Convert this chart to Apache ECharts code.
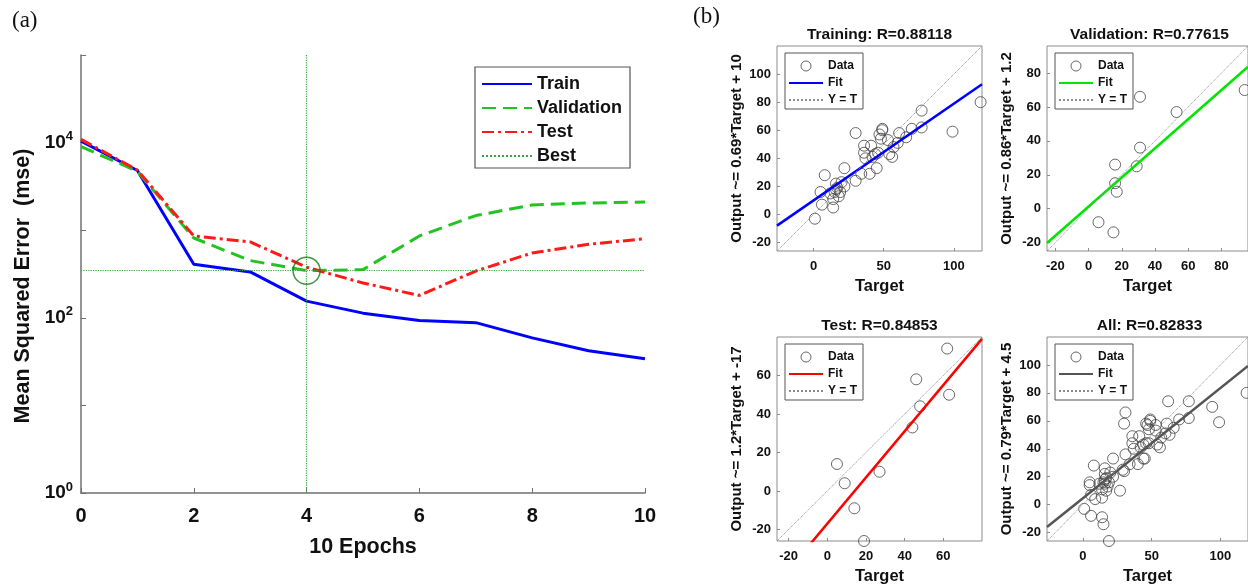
<!DOCTYPE html>
<html>
<head>
<meta charset="utf-8">
<script src="https://cdn.jsdelivr.net/npm/echarts@6/dist/echarts.min.js"></script>
<style>
html, body { margin: 0; padding: 0; background: #fff; }
#chart { width: 1248px; height: 586px; }
</style>
</head>
<body>
<div id="chart"></div>
<script>
// (a) performance, mse per epoch
const epochs = [0, 1, 2, 3, 4, 5, 6, 7, 8, 9, 10];
const trainMse = [10400, 4800, 408, 334, 155, 113, 93, 88, 59, 42, 34];
const validMse = [9000, 4700, 815, 450, 345, 355, 860, 1470, 1940, 2045, 2100];
const testMse = [10900, 4850, 860, 735, 378, 250, 180, 342, 550, 690, 800];
const bestEpoch = 4;

// (b) regression, [target, output]
const trainPts = [
  [1, -3], [5, 16], [6, 7], [8, 28], [12, 15], [14, 5], [14, 11], [15, 16], [16, 22], [16, 18],
  [17, 19], [18, 13], [19, 16], [20, 23], [22, 20], [22, 33], [30, 58], [30, 24], [34, 29], [36, 49],
  [36, 44], [37, 40], [40, 29], [41, 49], [42, 41], [44, 43], [45, 33], [46, 44], [47, 57], [48, 54],
  [49, 60], [49, 61], [53, 53], [54, 43], [56, 41], [57, 48], [60, 51], [61, 58], [66, 55], [70, 61],
  [77, 62], [77, 74], [99, 59], [119, 80]
];
const validPts = [[31, 66], [53, 57], [31, 36], [16, 26], [29, 25], [16, 15], [17, 10], [6, -8], [15, -14], [94, 70]];
const testPts = [[62, 74], [46, 58], [63, 50], [48, 44], [44, 33], [5, 14], [27, 10], [9, 4], [14, -9], [19, -26]];
const allPts = trainPts.concat(validPts, testPts);

const panelKeys = ['train', 'valid', 'test', 'all'];
const panelTitles = ['Training: R=0.88118', 'Validation: R=0.77615', 'Test: R=0.84853', 'All: R=0.82833'];
const panelData = [trainPts, validPts, testPts, allPts];
const fitSlope = [0.69, 0.86, 1.2, 0.79];
const fitIntercept = [10, 1.2, -17, 4.5];
const axisMin = [-26, -25, -26, -26];
const axisMax = [120, 96, 80, 120];
const xTicks = [[0, 50, 100], [-20, 0, 20, 40, 60, 80], [-20, 0, 20, 40, 60], [0, 50, 100]];
const yTicks = [[-20, 0, 20, 40, 60, 80, 100], [-20, 0, 20, 40, 60, 80], [-20, 0, 20, 40, 60], [-20, 0, 20, 40, 60, 80, 100]];
const fitColors = ['#0000ff', '#00e600', '#ff0000', '#555555'];

const FONT = 'Liberation Sans, Arial, sans-serif';
const boxes = [[777, 46], [1047, 46], [777, 337], [1047, 337]];
const BOX = 205;
const hideSymbol = { opacity: 0 };

const chart = echarts.init(document.getElementById('chart'), null, { renderer: 'canvas' });

const grids = [{ left: 81, top: 55, width: 564, height: 438 }];
const xAxes = [{
  type: 'value', gridIndex: 0, min: 0, max: 10, interval: 2,
  axisLine: { onZero: false, lineStyle: { color: '#707070', width: 1.5 } },
  axisTick: { inside: true, length: 5, lineStyle: { color: '#707070' } },
  splitLine: { show: false },
  axisLabel: { margin: 13, color: '#111', fontSize: 20, fontWeight: 'bold', fontFamily: FONT },
  name: '10 Epochs', nameLocation: 'middle', nameGap: 43,
  nameTextStyle: { color: '#111', fontSize: 21.5, fontWeight: 'bold', fontFamily: FONT }
}];
const yAxes = [{
  type: 'log', gridIndex: 0, logBase: 10, min: 1, max: 100000,
  axisLine: { show: true, onZero: false, lineStyle: { color: '#707070', width: 1.5 } },
  axisTick: { show: true, inside: true, length: 5, lineStyle: { color: '#707070' } },
  splitLine: { show: false },
  axisLabel: {
    margin: 8,
    formatter: (v) => {
      const e = Math.round(Math.log10(v));
      return e % 2 === 0 && e < 5 ? '{b|10}{s|' + e + '}' : '';
    },
    rich: {
      b: { fontSize: 19, fontWeight: 'bold', fontFamily: FONT, color: '#111' },
      s: { fontSize: 13, fontWeight: 'bold', fontFamily: FONT, color: '#111', padding: [0, 0, 12, 0] }
    }
  },
  name: 'Mean Squared Error  (mse)', nameLocation: 'middle', nameGap: 47,
  nameTextStyle: { color: '#111', fontSize: 21.5, fontWeight: 'bold', fontFamily: FONT, padding: [0, 24, 0, 0] }
}];

const series = [
  { name: 'Train', type: 'line', xAxisIndex: 0, yAxisIndex: 0, symbol: 'none',
    data: epochs.map((e, i) => [e, trainMse[i]]),
    itemStyle: { color: '#0000ff' }, lineStyle: { color: '#0000ff', width: 3 } },
  { name: 'Validation', type: 'line', xAxisIndex: 0, yAxisIndex: 0, symbol: 'none',
    data: epochs.map((e, i) => [e, validMse[i]]),
    itemStyle: { color: '#22c322' }, lineStyle: { color: '#22c322', width: 3, type: [14, 7] } },
  { name: 'Test', type: 'line', xAxisIndex: 0, yAxisIndex: 0, symbol: 'none',
    data: epochs.map((e, i) => [e, testMse[i]]),
    itemStyle: { color: '#ff1a1a' }, lineStyle: { color: '#ff1a1a', width: 3, type: [12, 4, 3, 4] } },
  { name: 'Best', type: 'line', xAxisIndex: 0, yAxisIndex: 0, symbol: 'none', data: [],
    itemStyle: { color: '#3aa83a' }, lineStyle: { color: '#3aa83a', width: 1.2, type: 'dotted' },
    markLine: {
      silent: true, symbol: 'none', label: { show: false },
      lineStyle: { color: '#3aa83a', width: 1.2, type: 'dotted' },
      data: [{ xAxis: bestEpoch }, { yAxis: validMse[bestEpoch] }]
    } },
  { name: 'bestCircle', type: 'scatter', xAxisIndex: 0, yAxisIndex: 0, symbol: 'circle', symbolSize: 27, z: 5,
    data: [[bestEpoch, validMse[bestEpoch]]],
    itemStyle: { color: 'transparent', borderColor: '#137a13', borderWidth: 1.5 } }
];

const legends = [{
  left: 475, top: 67, orient: 'vertical', padding: [8, 8, 3, 6],
  itemWidth: 50, itemHeight: 14, itemGap: 6,
  borderColor: '#555', borderWidth: 1.2,
  itemStyle: hideSymbol,
  textStyle: { color: '#111', fontSize: 18, fontWeight: 'bold', fontFamily: FONT },
  data: ['Train', 'Validation', 'Test', 'Best']
}];

const graphics = [
  { type: 'text', left: 12, top: 9, style: { text: '(a)', font: '23px "Liberation Serif", serif', fill: '#111' } },
  { type: 'text', left: 693, top: 5, style: { text: '(b)', font: '23px "Liberation Serif", serif', fill: '#111' } }
];

panelKeys.forEach((key, p) => {
  const gi = p + 1;
  const [bx, by] = boxes[p];
  const lo = axisMin[p], hi = axisMax[p];
  const s = fitSlope[p], b = fitIntercept[p];
  grids.push({ left: bx, top: by, width: BOX, height: BOX, show: true, borderColor: '#8c8c8c', borderWidth: 1 });
  const tickStyle = { inside: true, length: 3, lineStyle: { color: '#8c8c8c' } };
  const labelStyle = { color: '#111', fontSize: 13, fontWeight: 'bold', fontFamily: FONT };
  xAxes.push({
    type: 'value', gridIndex: gi, min: lo, max: hi,
    axisLine: { show: false, onZero: false }, splitLine: { show: false },
    axisTick: Object.assign({ customValues: xTicks[p] }, tickStyle),
    axisLabel: Object.assign({ customValues: xTicks[p], margin: 9 }, labelStyle),
    name: 'Target', nameLocation: 'middle', nameGap: 27,
    nameTextStyle: { color: '#111', fontSize: 16.5, fontWeight: 'bold', fontFamily: FONT }
  });
  yAxes.push({
    type: 'value', gridIndex: gi, min: lo, max: hi,
    axisLine: { show: false, onZero: false }, splitLine: { show: false },
    axisTick: Object.assign({ customValues: yTicks[p] }, tickStyle),
    axisLabel: Object.assign({ customValues: yTicks[p], margin: 6 }, labelStyle),
    name: 'Output ~= ' + s + '*Target + ' + b, nameLocation: 'middle', nameGap: 33,
    nameTextStyle: { color: '#111', fontSize: 15, fontWeight: 'bold', fontFamily: FONT }
  });
  series.push(
    { name: key + '|Data', type: 'scatter', xAxisIndex: gi, yAxisIndex: gi, symbol: 'circle', symbolSize: 11,
      data: panelData[p], itemStyle: { color: 'transparent', borderColor: '#444', borderWidth: 1 } },
    { name: key + '|Fit', type: 'line', xAxisIndex: gi, yAxisIndex: gi, symbol: 'none',
      data: [[lo, s * lo + b], [hi, s * hi + b]],
      itemStyle: { color: fitColors[p] }, lineStyle: { color: fitColors[p], width: 2.5 } },
    { name: key + '|Y = T', type: 'line', xAxisIndex: gi, yAxisIndex: gi, symbol: 'none',
      data: [[lo, lo], [hi, hi]],
      itemStyle: { color: '#8c8c8c' }, lineStyle: { color: '#8c8c8c', width: 1, type: 'dotted' } }
  );
  legends.push({
    left: bx + 8, top: by + 7, orient: 'vertical', padding: [7, 6, 3, 3],
    itemWidth: 34, itemHeight: 10, itemGap: 5,
    borderColor: '#555', borderWidth: 1,
    formatter: (n) => n.split('|')[1],
    textStyle: { color: '#111', fontSize: 12, fontWeight: 'bold', fontFamily: FONT },
    data: [
      { name: key + '|Data', itemStyle: { color: 'transparent', borderColor: '#444', borderWidth: 1 } },
      { name: key + '|Fit', itemStyle: hideSymbol },
      { name: key + '|Y = T', itemStyle: hideSymbol }
    ]
  });
  graphics.push({
    type: 'text', x: bx + BOX / 2, y: by - 11,
    style: { text: panelTitles[p], font: 'bold 15.5px ' + FONT, fill: '#111', align: 'center', verticalAlign: 'middle' }
  });
});

chart.setOption({
  animation: false,
  backgroundColor: '#fff',
  grid: grids,
  xAxis: xAxes,
  yAxis: yAxes,
  legend: legends,
  graphic: graphics,
  series
});
</script>
</body>
</html>
